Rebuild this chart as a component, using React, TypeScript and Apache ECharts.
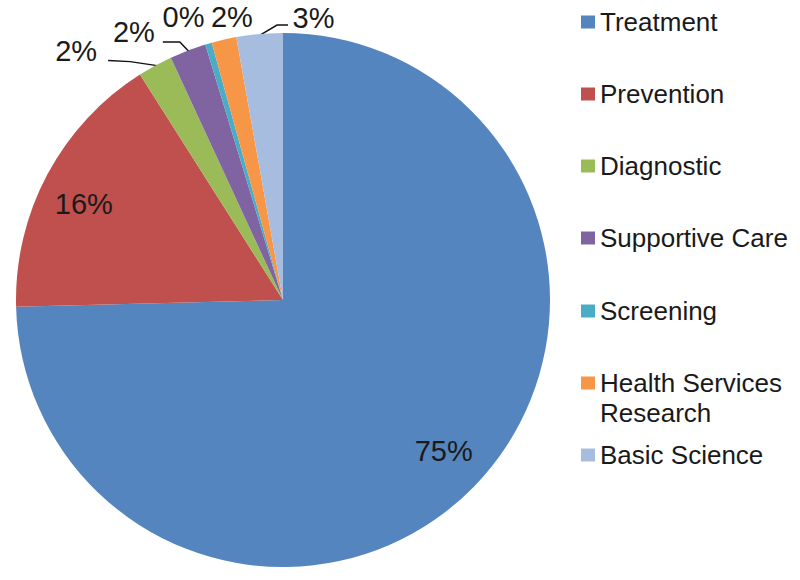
import React, { useEffect, useRef } from 'react';
import * as echarts from 'echarts';

const categories = [
  'Treatment',
  'Prevention',
  'Diagnostic',
  'Supportive Care',
  'Screening',
  'Health Services Research',
  'Basic Science',
];
const shares = [74.6, 16.4, 2.1, 2.2, 0.4, 1.5, 2.8];
const colors = ['#5585BE', '#C0504D', '#9BBB59', '#8064A2', '#4BACC6', '#F79646', '#A6BDE0'];

const CX = 283;
const CY = 300;
const R = 267;
const FONT = "'Liberation Sans', Arial, Helvetica, sans-serif";

// label placement styles (relative to the slice's mid-angle point)
const placements: any[] = [
  { r: 0.82, dx: 4, dy: -2, inside: true },
  { r: 0.82, dx: -6, dy: 7, inside: true },
  { r: 1, dx: -79, dy: -15, line: [[2, 0], [-25, -4], [-47, -5]] },
  { r: 1, dx: -54, dy: -19, line: [[2, 2], [-8, -8.5], [-25, -8.5]] },
  { r: 1, dx: -25, dy: -27 },
  { r: 1, dx: 8, dy: -23 },
  { r: 1, dx: 54, dy: -16, line: [[0.5, 1], [17.5, -9], [28.5, -9]] },
];

const legendCenters = [22, 94, 166, 238, 311, 383, 455];

function midAngle(i: number) {
  const total = shares.reduce((a, b) => a + b, 0);
  let acc = 0;
  for (let j = 0; j < i; j++) acc += shares[j];
  return ((acc + shares[i] / 2) / total) * Math.PI * 2;
}

export default function App() {
  const ref = useRef<HTMLDivElement>(null);
  useEffect(() => {
    if (!ref.current) return;
    const chart = echarts.init(ref.current, undefined, { renderer: 'svg' });
    const option: any = {
      animation: false,
      backgroundColor: '#ffffff',
      legend: categories.map((name, i) => ({
        data: [name],
        left: 581,
        top: legendCenters[i] - (i === 5 ? 45 : 15),
        orient: 'vertical',
        padding: 0,
        itemWidth: 14,
        itemHeight: 13,
        itemGap: 0,
        icon: 'rect',
        selectedMode: false,
        formatter: (n: string) =>
          n === 'Health Services Research' ? '\nHealth Services\nResearch' : n,
        textStyle: {
          fontSize: 26,
          fontFamily: FONT,
          color: '#1a1a1a',
          lineHeight: 30,
        },
      })),
      series: [
        {
          type: 'pie',
          center: [CX, CY],
          radius: R,
          startAngle: 90,
          clockwise: true,
          avoidLabelOverlap: false,
          emphasis: { scale: false },
          label: {
            show: true,
            position: 'outside',
            fontSize: 29,
            fontFamily: FONT,
            color: '#1a1a1a',
            formatter: (p: any) => Math.round(p.percent) + '%',
          },
          labelLine: {
            show: true,
            length: 8,
            length2: 10,
            lineStyle: { color: '#111', width: 1.5 },
          },
          labelLayout: (params: any) => {
            const i = params.dataIndex;
            const p = placements[i];
            const a = midAngle(i);
            const rx = CX + Math.sin(a) * R * p.r;
            const ry = CY - Math.cos(a) * R * p.r;
            const res: any = {
              x: rx + p.dx,
              y: ry + p.dy,
              align: 'center',
              verticalAlign: 'middle',
            };
            if (p.line) res.labelLinePoints = p.line.map(([u, v]: number[]) => [rx + u, ry + v]);
            return res;
          },
          data: categories.map((name, i) => ({
            name,
            value: shares[i],
            itemStyle: { color: colors[i] },
            label: placements[i].inside ? { position: 'inside' } : undefined,
            labelLine: { show: !!placements[i].line },
          })),
        },
      ],
    };
    chart.setOption(option);
    return () => chart.dispose();
  }, []);
  return (
    <div
      ref={ref}
      style={{ position: 'absolute', left: 0, top: 0, width: 800, height: 580, background: '#fff' }}
    />
  );
}
